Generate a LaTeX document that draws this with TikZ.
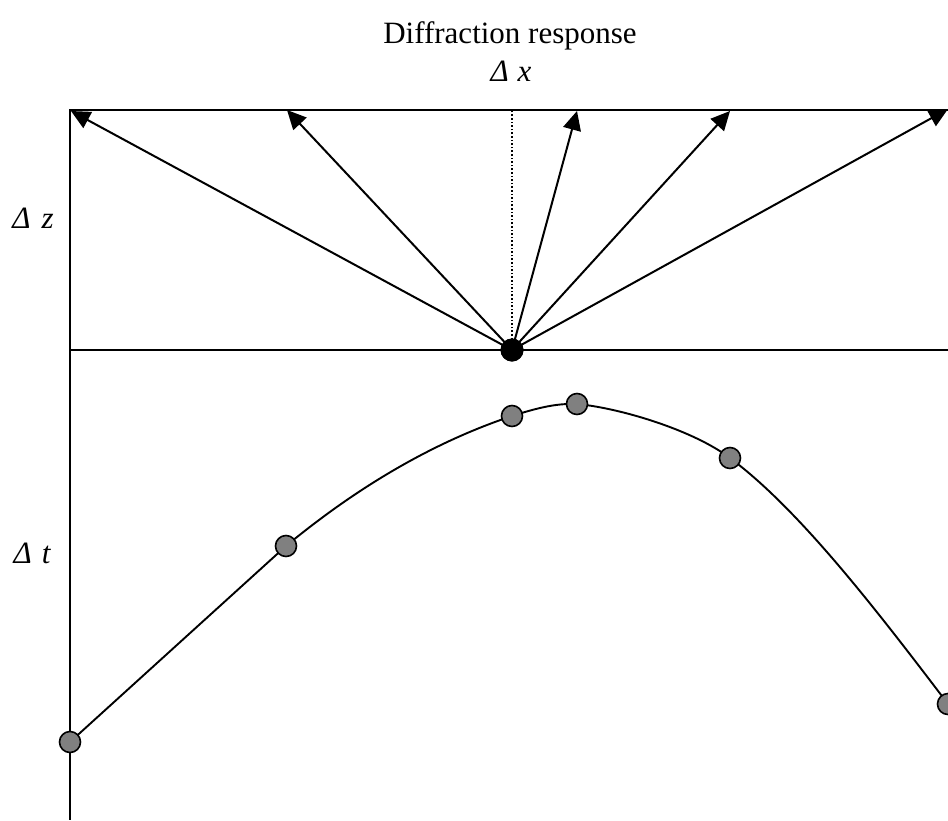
\documentclass[tikz,border=0pt]{standalone}
\usepackage{fontspec}
\setmainfont{Liberation Serif}
\usetikzlibrary{arrows.meta}
\definecolor{dotgray}{RGB}{128,128,128}
\begin{document}
\begin{tikzpicture}[x=1pt,y=-1pt,
  axis/.style={line width=2.1pt},
  ray/.style={line width=2pt,-{Triangle[length=19pt,width=18pt]}},
  gdot/.style={circle,draw,line width=1.6pt,fill=dotgray,minimum size=21pt,inner sep=0pt},
  bdot/.style={circle,fill=black,minimum size=23pt,inner sep=0pt},
  lab/.style={font=\fontsize{31}{36}\selectfont}]
\useasboundingbox (0,0) rectangle (948,820);
% axes
\coordinate (tl) at (70,110);
\coordinate (tr) at (948,110);
\coordinate (bl) at (70,820);
\coordinate (ml) at (70,350);
\coordinate (mr) at (948,350);
\coordinate (dtop) at (512,110);
\draw[axis] (tr) -- (tl) -- (bl);
\draw[axis] (ml) -- (mr);
% labels
\node[lab] (title) at (510,36) {Diffraction response};
\node[lab] (dx) at (511,71) {\itshape Δ\hspace{9pt}x};
\node[lab] (dz) at (33,218) {\itshape Δ\hspace{11pt}z};
\node[lab] (dt) at (32,553) {\itshape Δ\hspace{10pt}t};
% source
\node[bdot] (s) at (512,350) {};
\draw[line width=1.6pt,dotted] (s.center) -- (dtop);
\coordinate (t1) at (71,111);
\coordinate (t2) at (287,110);
\coordinate (t3) at (577,111);
\coordinate (t4) at (730,111);
\coordinate (t5) at (948,109);
\foreach \t in {t1,t2,t3,t4,t5} \draw[ray] (s.center) -- (\t);
\node[bdot] at (512,350) {};
% curve
\coordinate (c1) at (70,742);
\coordinate (c2) at (286,546);
\coordinate (c3) at (512,416);
\coordinate (c4) at (577,404);
\coordinate (c5) at (730,458);
\coordinate (c6) at (948,704);
\draw[line width=1.9pt] (c1) -- (c2)
  .. controls (361,484) and (437,441) .. (c3)
  .. controls (534,409) and (555,403) .. (c4)
  .. controls (620,408) and (693,430) .. (c5)
  .. controls (800,510) and (878,612) .. (c6);
\node[gdot] (p1) at (c1) {};
\node[gdot] (p2) at (c2) {};
\node[gdot] (p3) at (c3) {};
\node[gdot] (p4) at (c4) {};
\node[gdot] (p5) at (c5) {};
\node[gdot] (p6) at (c6) {};
\end{tikzpicture}
\end{document}
